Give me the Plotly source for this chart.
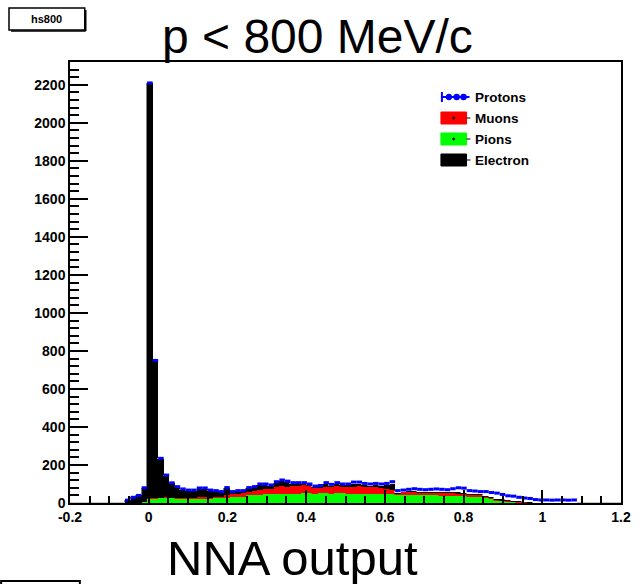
import numpy as np
import plotly.graph_objects as go

# ---------------- data ----------------
X_MIN, X_MAX, N_BINS = -0.2, 1.2, 100
FIRST_BIN = 10  # first non-empty bin index

pions_seg = [
    0, 0, 0, 5, 20, 22, 25, 25, 25, 22,
    22, 22, 20, 22, 22, 22, 24, 25, 28, 30,
    30, 32, 40, 42, 42, 45, 47, 47, 46, 46,
    48, 50, 51, 51, 50, 51, 51, 50, 51, 51,
    50, 48, 47, 47, 47, 46, 46, 46, 45, 42,
    42, 42, 42, 42, 41, 40, 40, 38, 37, 37,
    36, 35, 33, 33, 30, 25, 20, 12, 8, 5,
    4, 2, 2, 1, 0, 0, 0, 0, 0, 0,
    0, 0]
muons_seg = [
    0, 0, 0, 0, 5, 3, 2, 6, 2, 3,
    2, 3, 5, 10, 8, 6, 6, 8, 15, 15,
    20, 20, 20, 22, 28, 27, 28, 38, 42, 40,
    41, 42, 44, 36, 28, 30, 35, 35, 36, 35,
    36, 38, 40, 35, 35, 36, 35, 30, 23, 8,
    15, 16, 14, 13, 14, 14, 14, 14, 14, 14,
    12, 10, 10, 9, 10, 8, 6, 6, 5, 4,
    3, 2, 1, 1, 0, 0, 0, 0, 0, 0,
    0, 0]
electron_seg = [
    15, 30, 40, 75, 2185, 725, 205, 113, 76, 58,
    47, 40, 40, 44, 45, 36, 31, 23, 34, 11,
    11, 9, 17, 18, 25, 23, 15, 22, 27, 23,
    12, 9, 6, 7, 5, 5, 14, 6, 13, 7,
    7, 16, 15, 13, 10, 12, 10, 18, 30, 5,
    3, 4, 5, 5, 4, 5, 5, 4, 5, 6,
    8, 8, 6, 6, 5, 5, 6, 5, 6, 6,
    5, 4, 3, 2, 0, 0, 0, 0, 0, 0,
    0, 0]
protons_seg = [
    0, 0, 0, 0, 0, 0, 3, 3, 3, 3,
    3, 3, 3, 3, 4, 4, 4, 4, 4, 4,
    4, 4, 4, 4, 5, 5, 5, 5, 6, 6,
    6, 6, 6, 6, 6, 6, 7, 7, 7, 7,
    7, 8, 8, 8, 8, 9, 9, 9, 14, 10,
    8, 10, 14, 12, 11, 13, 15, 16, 14, 18,
    24, 25, 16, 15, 15, 22, 23, 29, 26, 23,
    24, 22, 20, 20, 18, 16, 16, 15, 16, 16,
    15, 16]

x_tick_vals = [-0.2, 0, 0.2, 0.4, 0.6, 0.8, 1.0, 1.2]
x_tick_text = ["-0.2", "0", "0.2", "0.4", "0.6", "0.8", "1", "1.2"]
y_tick_vals = [0, 200, 400, 600, 800, 1000, 1200, 1400, 1600, 1800, 2000, 2200]
y_tick_text = [str(v) for v in y_tick_vals]

legend_names = ["Protons", "Muons", "Pions", "Electron"]


def full(seg):
    return np.array([0] * FIRST_BIN + seg + [0] * (N_BINS - FIRST_BIN - len(seg)), dtype=float)


pions = full(pions_seg)
muons = full(muons_seg)
electrons = full(electron_seg)
protons = full(protons_seg)

bw = (X_MAX - X_MIN) / N_BINS
centers = X_MIN + bw * (np.arange(N_BINS) + 0.5)

# ---------------- figure ----------------
W, H = 643, 584
L, R, T, B = 70, 13, 62, 81
PW, PH = W - L - R, H - T - B


def px(x):
    return (x - L) / PW


def py(y):
    return (H - B - y) / PH


fig = go.Figure()
for name, vals, col in [("Pions", pions, "#00ff00"), ("Muons", muons, "#ff0000"),
                        ("Electron", electrons, "#000000"), ("Protons", protons, "#ffffff")]:
    fig.add_trace(go.Bar(x=centers, y=vals, width=bw, name=name,
                         marker=dict(color=col, line=dict(width=0.5, color=col)),
                         showlegend=False))

total = pions + muons + electrons + protons
mask = total > 0
fig.add_trace(go.Scatter(x=centers[mask], y=total[mask], mode="markers",
                         marker=dict(size=2, color="#0000ff"),
                         error_x=dict(type="constant", value=bw / 2, color="#0000ff",
                                      thickness=3, width=0),
                         showlegend=False))

tickfont = dict(family="Liberation Sans", size=14, color="black", weight="bold")

fig.update_layout(
    width=W, height=H,
    margin=dict(l=L, r=R, t=T, b=B, pad=0),
    paper_bgcolor="white", plot_bgcolor="white",
    barmode="stack", bargap=0,
    showlegend=False,
    xaxis=dict(range=[X_MIN, X_MAX], tickvals=x_tick_vals, ticktext=x_tick_text,
               ticks="inside", ticklen=13, tickwidth=1.5, tickcolor="black",
               minor=dict(dtick=0.05, tick0=-0.2, ticks="inside", ticklen=7,
                          tickwidth=1.5, tickcolor="black"),
               showline=True, linecolor="black", linewidth=1.5, mirror=True,
               showgrid=False, zeroline=False, tickfont=tickfont),
    yaxis=dict(range=[0, 2320], tickvals=y_tick_vals, ticktext=y_tick_text,
               ticks="inside", ticklen=18, tickwidth=1.5, tickcolor="black",
               minor=dict(dtick=40, tick0=0, ticks="inside", ticklen=9,
                          tickwidth=1.5, tickcolor="black"),
               showline=True, linecolor="black", linewidth=1.5, mirror=True,
               showgrid=False, zeroline=False, tickfont=tickfont),
)

annotations = [
    dict(text="p < 800 MeV/c", x=px(322), y=py(36), xref="paper", yref="paper",
         showarrow=False, xanchor="center", yanchor="middle",
         font=dict(family="Liberation Sans", size=48, color="black")),
    dict(text="NNA output", x=px(296), y=py(558), xref="paper", yref="paper",
         showarrow=False, xanchor="center", yanchor="middle",
         font=dict(family="Liberation Sans", size=49, color="black")),
    dict(text="hs800", x=px(46), y=py(19), xref="paper", yref="paper",
         showarrow=False, xanchor="center", yanchor="middle",
         font=dict(family="Liberation Sans", size=11, color="black", weight="bold")),
]
shapes = [
    dict(type="rect", xref="paper", yref="paper", x0=px(8), x1=px(85), y0=py(30), y1=py(8),
         line=dict(color="black", width=1.5), fillcolor="white"),
    dict(type="line", xref="paper", yref="paper", x0=px(10), x1=px(86), y0=py(31), y1=py(31),
         line=dict(color="black", width=1.5)),
    dict(type="line", xref="paper", yref="paper", x0=px(86), x1=px(86), y0=py(31), y1=py(10),
         line=dict(color="black", width=1.5)),
    dict(type="rect", xref="paper", yref="paper", x0=px(0), x1=px(80), y0=py(600), y1=py(581),
         line=dict(color="black", width=2), fillcolor="white"),
]

leg_y = [97, 118, 139, 160]
leg_cols = [None, "#ff0000", "#00ff00", "#000000"]
for name, yc, col in zip(legend_names, leg_y, leg_cols):
    annotations.append(dict(text=name, x=px(480), y=py(yc), xref="paper", yref="paper",
                            showarrow=False, xanchor="left", yanchor="middle",
                            font=dict(family="Liberation Sans", size=13.5, color="black",
                                      weight="bold")))
    if col is None:
        shapes.append(dict(type="line", xref="paper", yref="paper", x0=px(447), x1=px(476),
                           y0=py(yc), y1=py(yc), line=dict(color="#0000ff", width=2)))
        shapes.append(dict(type="line", xref="paper", yref="paper", x0=px(448), x1=px(448),
                           y0=py(yc + 5), y1=py(yc - 5), line=dict(color="#0000ff", width=2)))
        for cx in (455, 463, 470):
            shapes.append(dict(type="circle", xref="paper", yref="paper",
                               x0=px(cx - 2.5), x1=px(cx + 2.5), y0=py(yc + 2.5), y1=py(yc - 2.5),
                               line=dict(color="#0000ff", width=1.5), fillcolor="#0000ff"))
    else:
        shapes.append(dict(type="rect", xref="paper", yref="paper", x0=px(447), x1=px(473),
                           y0=py(yc + 6), y1=py(yc - 6), line=dict(color=col, width=1),
                           fillcolor=col))
        shapes.append(dict(type="line", xref="paper", yref="paper", x0=px(473), x1=px(477),
                           y0=py(yc), y1=py(yc), line=dict(color="black", width=1)))
        if col != "#000000":
            shapes.append(dict(type="circle", xref="paper", yref="paper",
                               x0=px(459), x1=px(461), y0=py(yc + 1), y1=py(yc - 1),
                               line=dict(color="black", width=1), fillcolor="black"))

fig.update_layout(annotations=annotations, shapes=shapes)
fig.write_html("out.html")
